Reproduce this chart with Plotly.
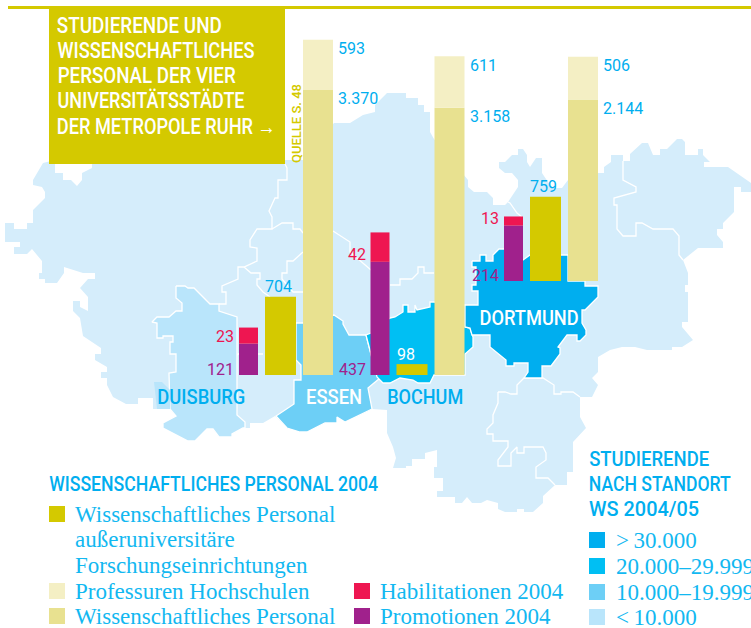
import json
import plotly.graph_objects as go

# ---------- data ----------
CITIES = ["Duisburg-Essen", "Bochum", "Dortmund"]
PROFESSUREN = [593, 611, 506]
WISS_PERSONAL = [3370, 3158, 2144]
AUSSERUNI = [704, 98, 759]
PROMOTIONEN = [121, 437, 214]
HABILITATIONEN = [23, 42, 13]

GOLD, WISS_C, PROF_C, HABIL_C, PROMO_C = "#D4C900", "#E8E190", "#F4EFC4", "#EE1651", "#A0218C"
CYAN = "#00AEEF"
LEG_CYAN = "#12B8F1"
REGION_C = ["#00AEEF", "#00BFF3", "#6DCFF6", "#B9E5FB"]
PALE = "#D5EDFB"

W, H = 751, 628
BASE_PX = [375, 375, 281]
GROUP_LEFT = [239, 370.5, 504]
K_WISS, K_PROMO, K_GOLD, K_HABIL = 0.0846, 0.2590, 0.1110, 0.70

# ---------- base map outlines (image geography) ----------
OUTER = [(303,160),(285,160),(92,160),(92,168),(82,173),(82,180),(77,186),(71,180),(63,180),(63,173),(55,173),(55,160),(43,163),
(33,180),(33,185),(42,187),(45,192),(45,198),(33,210),(33,223),(27,223),(27,229),(14,229),(14,223),(5,223),(5,242),(20,242),(20,247),(14,247),(14,254),(27,254),(32,249),(42,261),(42,273),(39,273),(39,279),(45,279),(45,283),(57,283),(64,273),(64,267),(83,273),(95,273),(95,279),(88,279),(80,288),(88,297),(88,311),(80,307),(80,301),(73,301),(73,311),(80,318),(83,336),(101,348),(101,354),(95,354),(95,360),(107,367),(107,372),(101,372),(101,378),(107,378),(107,385),(113,397),(126,404),(138,404),(138,398),(153,398),(153,409),(170,409),(176,416),(163,423),(163,428),(188,441),(195,441),(207,429),(213,429),(219,437),(232,437),(232,434),(243,428),(250,428),(250,423),(263,423),(275,416),(287,428),(300,432),(307,432),(325,423),(337,423),(337,417),(345,422),(358,416),(372,409),(387,410),
(387,433),(393,447),(396,458),(393,468),(406,468),(406,466),(412,466),(412,459),(425,459),(425,453),(437,450),(437,467),(434,467),(434,478),(443,478),(443,491),(437,491),(437,497),(455,497),(455,503),(462,503),(467,497),(472,503),(481,503),(487,500),(498,503),(498,509),(505,512),(517,512),(517,509),(524,509),(524,512),(533,512),(543,503),(543,496),(555,485),(567,485),(567,472),(573,472),(573,442),(586,428),(580,417),(580,397),(586,397),(592,397),(598,385),(592,378),(598,372),(598,357),(610,350),(622,347),(635,347),(647,350),(672,350),(672,347),(682,347),(693,340),(682,327),(682,322),(688,322),(688,292),(685,292),(685,285),(688,285),(688,273),(683,260),(698,248),(723,248),(723,242),(717,235),(717,229),(723,229),(723,223),(734,212),(734,187),(741,187),(741,192),(751,192),(751,183),(728,167),(704,167),(704,162),(710,162),(703,155),(703,149),(698,149),(698,155),(685,155),(685,142),(682,139),(677,139),(667,149),(660,149),(660,155),(653,155),(648,143),(642,143),(630,154),(630,161),(623,161),(623,155),(611,155),(611,162),(604,167),(604,173),(598,173),(568,180),(562,188),(552,188),(542,173),(542,158),(536,158),(530,167),(527,162),(527,155),(523,149),(518,149),(518,155),(512,155),(505,162),(499,162),(499,168),(505,173),(512,173),(518,180),(518,187),(508,202),(505,205),(493,205),(493,198),(487,192),(474,192),(468,187),(468,180),(434,139),(430,132),(430,112),(424,112),(424,105),(418,105),(418,98),(406,98),(406,93),(387,93),(375,105),(375,112),(363,115),(350,123),(334,123)]
DUISBURG = [(176,286),(185,286),(188,288),(194,288),(210,304),(219,304),(219,311),(237,317),(237,415),(245,422),(245,428),(243,428),(232,434),(232,437),(219,437),(213,429),(207,429),(195,441),(188,441),(163,428),(163,423),(176,416),(170,409),(169,373),(176,372),(176,354),(170,354),(170,342),(173,342),(173,336),(163,336),(163,338),(157,338),(157,323),(152,322),(157,317),(169,317),(176,311),(182,311),(182,303),(176,298)]
DUISBURG_LOBE = [(154,382),(162,382),(170,390),(170,409),(157,409)]
ESSEN = [(296,323),(303,323),(334,315),(343,321),(343,324),(349,335),(366,335),(370,352),(375,370),(380,378),(368,388),(372,409),(358,416),(345,422),(337,417),(337,423),(325,423),(307,432),(300,432),(287,428),(276,416),(294,404),(294,380),(301,380),(301,365),(296,360)]
BOCHUM = [(390,318),(395,317),(403,312),(403,305),(408,305),(408,312),(415,312),(415,305),(417,310),(430,307),(430,302),(434,302),(465,305),(465,327),(470,328),(473,337),(473,347),(465,354),(465,375),(434,375),(430,383),(418,383),(413,380),(400,378),(390,383),(383,383),(377,377),(370,352),(366,335),(371,333)]
DORTMUND = [(472,261),(480,261),(480,255),(486,255),(486,261),(493,261),(493,255),(499,249),(504,249),(523,260),(530,255),(568,255),(568,281),(585,281),(585,286),(598,286),(598,297),(585,310),(582,310),(582,323),(586,330),(586,335),(580,341),(577,341),(577,335),(567,335),(558,347),(560,348),(560,354),(551,366),(542,366),(542,378),(524,378),(528,372),(528,363),(514,363),(514,366),(506,366),(506,360),(490,347),(490,335),(472,335),(470,328),(465,327),(465,305),(478,305),(478,291),(472,291),(472,285),(476,285),(476,267),(472,267)]
BORDERS = [
 [(285,164),(287,168),(287,180),(278,180),(278,198),(275,198),(269,211),(272,217),(272,229),(257,229),(250,240),(250,247),(257,248),(257,261),(244,267),(238,267),(238,279),(222,286),(222,292),(226,292),(226,304),(219,304)],
 [(272,229),(282,223),(293,223),(293,229),(300,229),(303,233)],
 [(244,267),(251,273),(260,273),(260,279),(257,279),(257,285),(263,292),(270,297)],
 [(303,252),(293,261),(287,261),(287,273),(282,273),(282,279),(293,292),(303,292)],
 [(333,231),(350,242),(350,252),(371,270)],
 [(390,285),(400,285),(400,279),(412,279),(418,273),(418,267),(424,267),(424,273),(434,273)],
 [(508,202),(510,203),(517,213),(522,217)],
 [(623,161),(623,180),(636,187),(636,192),(614,198),(614,205),(617,205),(617,229),(623,236),(636,236),(636,223),(642,223),(653,229),(673,229),(679,236),(679,255),(683,260)],
 [(498,392),(505,392),(511,394),(517,394),(517,385),(524,378),(543,378),(554,385),(554,394),(561,394),(561,392),(573,392),(580,397)],
 [(498,392),(498,403),(493,415),(493,423),(487,429),(487,434),(493,434),(493,441),(508,441),(508,447),(498,460),(498,466),(511,466),(511,453),(517,447),(517,453),(524,453),(524,447),(543,447),(546,453),(546,460),(536,467),(536,478),(548,478),(555,485)],
 [(232,360),(238,354),(263,354)],
]

# text, left edge, vertical centre, target width, size, colour
HEADINGS = [
 ("STUDIERENDE UND", 57, 25, 165, 22, "white"),
 ("WISSENSCHAFTLICHES", 57, 50, 197, 22, "white"),
 ("PERSONAL DER VIER", 57, 75, 178, 22, "white"),
 ("UNIVERSITÄTSSTÄDTE", 57, 100, 187, 22, "white"),
 ("DER METROPOLE RUHR →", 57, 126, 219, 22, "white"),
 ("DUISBURG", 157, 397, 88, 21, CYAN),
 ("ESSEN", 306, 397, 56, 21, "white"),
 ("BOCHUM", 387, 397, 76, 21, CYAN),
 ("DORTMUND", 479, 318, 99, 21, "white"),
 ("WISSENSCHAFTLICHES PERSONAL 2004", 49, 484, 329, 21, CYAN),
 ("STUDIERENDE", 589, 459, 120, 21, CYAN),
 ("NACH STANDORT", 589, 484, 142, 21, CYAN),
 ("WS 2004/05", 589, 509, 110, 21, CYAN),
]
LEFT_LEGEND = [("Wissenschaftliches Personal", GOLD, 514), ("außeruniversitäre", None, 539), ("Forschungseinrichtungen", None, 565),
               ("Professuren Hochschulen", PROF_C, 591), ("Wissenschaftliches Personal", WISS_C, 616)]
MID_LEGEND = [("Habilitationen 2004", HABIL_C, 591), ("Promotionen 2004", PROMO_C, 616)]
RIGHT_LEGEND = [(">\u200930.000", REGION_C[0], 540), ("20.000–29.999", REGION_C[1], 566), ("10.000–19.999", REGION_C[2], 592), ("<\u200910.000", REGION_C[3], 617)]

HEAD = "Roboto, sans-serif"
NUM = "Roboto, sans-serif"
SERIF = "'Liberation Serif', serif"

def de(v):
    return f"{v:,}".replace(",", ".")

fig = go.Figure()

def poly(pts, color):
    fig.add_trace(go.Scatter(x=[p[0] for p in pts]+[pts[0][0]], y=[p[1] for p in pts]+[pts[0][1]], mode="lines",
                             fill="toself", fillcolor=color, line=dict(color="white", width=1.3), hoverinfo="skip", xaxis="x", yaxis="y"))

fig.add_trace(go.Scatter(x=[p[0] for p in OUTER]+[OUTER[0][0]], y=[p[1] for p in OUTER]+[OUTER[0][1]], mode="lines",
                         fill="toself", fillcolor=PALE, line=dict(color=PALE, width=0), hoverinfo="skip", xaxis="x", yaxis="y"))
for b in BORDERS:
    fig.add_trace(go.Scatter(x=[p[0] for p in b], y=[p[1] for p in b], mode="lines", line=dict(color="white", width=1.3), hoverinfo="skip", xaxis="x", yaxis="y"))
poly(DUISBURG, REGION_C[3])
fig.add_trace(go.Scatter(x=[p[0] for p in DUISBURG_LOBE]+[DUISBURG_LOBE[0][0]], y=[p[1] for p in DUISBURG_LOBE]+[DUISBURG_LOBE[0][1]], mode="lines",
                         fill="toself", fillcolor=REGION_C[3], line=dict(width=0), hoverinfo="skip", xaxis="x", yaxis="y"))
poly(ESSEN, REGION_C[2])
poly(BOCHUM, REGION_C[1])
poly(DORTMUND, REGION_C[0])

# ---------- bars: every series has its own value scale, all sharing the pixel zero of the first two groups ----------
BAR = {"promo": (0, 19), "gold": (26, 31), "wiss": (64, 30)}
def xc(i, kind):
    off, w = BAR[kind]
    return GROUP_LEFT[i] + off + w/2
def lift(i, k):  # Dortmund stands higher on the map
    return (BASE_PX[0]-BASE_PX[i]) / k
idx = range(len(CITIES))
def bars(kind, vals, bases, color, axis, name):
    fig.add_trace(go.Bar(x=[xc(i, kind) for i in idx], y=vals, base=bases, width=BAR[kind][1], marker=dict(color=color, line=dict(width=0)),
                         xaxis="x", yaxis=axis, name=name, hoverinfo="skip"))
bars("wiss", WISS_PERSONAL, [lift(i, K_WISS) for i in idx], WISS_C, "y2", "Wissenschaftliches Personal")
bars("wiss", PROFESSUREN, [lift(i, K_WISS)+WISS_PERSONAL[i] for i in idx], PROF_C, "y2", "Professuren Hochschulen")
bars("promo", PROMOTIONEN, [lift(i, K_PROMO) for i in idx], PROMO_C, "y3", "Promotionen 2004")
bars("gold", AUSSERUNI, [lift(i, K_GOLD) for i in idx], GOLD, "y4", "Außeruniversitär")
habil_base = [lift(i, K_HABIL) + PROMOTIONEN[i]*K_PROMO/K_HABIL for i in idx]
bars("promo", HABILITATIONEN, habil_base, HABIL_C, "y5", "Habilitationen 2004")

ann = []
def text(x, y, t, size, color, font, xa="left", ya="middle", weight=None):
    f = dict(size=size, color=color, family=font)
    if weight:
        f["weight"] = weight
    ann.append(dict(x=x, y=y, xref="x", yref="y", text=t, showarrow=False, xanchor=xa, yanchor=ya, font=f))
def vlabel(x, y, axis, t, color, xa="left", yshift=0):
    ann.append(dict(x=x, y=y, xref="x", yref=axis, text=t, showarrow=False, xanchor=xa, yanchor="middle", yshift=yshift,
                    font=dict(size=16, color=color, family=NUM)))

for i in idx:
    wl = GROUP_LEFT[i]+BAR["wiss"][0]+BAR["wiss"][1]+3
    wt = lift(i, K_WISS)+WISS_PERSONAL[i]
    vlabel(wl, wt, "y2", de(WISS_PERSONAL[i]), CYAN, yshift=-9)
    vlabel(wl, wt+PROFESSUREN[i], "y2", de(PROFESSUREN[i]), CYAN, yshift=-9)
    gx = GROUP_LEFT[i]+BAR["gold"][0]-2
    vlabel(gx, lift(i, K_GOLD)+AUSSERUNI[i], "y4", de(AUSSERUNI[i]), "white" if AUSSERUNI[i] < 200 else CYAN, yshift=10)
    px = GROUP_LEFT[i]-3
    vlabel(px, lift(i, K_PROMO), "y3", de(PROMOTIONEN[i]), PROMO_C, xa="right", yshift=6)
    vlabel(px, habil_base[i], "y5", de(HABILITATIONEN[i]), HABIL_C, xa="right", yshift=7)

for t, left, y, w, size, color in HEADINGS:
    text(left + w/2, y, t, size, color, HEAD, xa="center", weight=500)
ann.append(dict(x=296, y=124, xref="x", yref="y", text="QUELLE S. 48", textangle=-90, showarrow=False, xanchor="center", yanchor="middle",
                font=dict(size=13, color=GOLD, family=NUM, weight=500)))

shapes = [dict(type="rect", xref="x", yref="y", x0=8, x1=W, y0=6, y1=9, fillcolor=GOLD, line=dict(width=0), layer="above"),
          dict(type="rect", xref="x", yref="y", x0=49, x1=285, y0=6, y1=164, fillcolor=GOLD, line=dict(width=0), layer="above")]
def swatch(x, yc, c):
    shapes.append(dict(type="rect", xref="x", yref="y", x0=x, x1=x+16, y0=yc-8, y1=yc+8, fillcolor=c, line=dict(width=0), layer="above"))
for t, c, y in LEFT_LEGEND:
    if c: swatch(49, y, c)
    text(73, y, t, 23, LEG_CYAN, SERIF)
for t, c, y in MID_LEGEND:
    swatch(354, y, c)
    text(378, y, t, 23, LEG_CYAN, SERIF)
for t, c, y in RIGHT_LEGEND:
    swatch(589, y, c)
    text(614, y, t, 23, LEG_CYAN, SERIF)

def vaxis(k=None):
    base = dict(visible=False, fixedrange=True, domain=[0, 1])
    if k is None:
        base.update(range=[H, 0])
    else:
        base.update(range=[(BASE_PX[0]-H)/k, BASE_PX[0]/k], overlaying="y", anchor="x")
    return base

fig.update_layout(width=W, height=H, margin=dict(l=0, r=0, t=0, b=0), paper_bgcolor="white", plot_bgcolor="white",
    showlegend=False, barmode="overlay", autosize=False,
    xaxis=dict(range=[0, W], visible=False, fixedrange=True, domain=[0, 1]),
    yaxis=vaxis(), yaxis2=vaxis(K_WISS), yaxis3=vaxis(K_PROMO), yaxis4=vaxis(K_GOLD), yaxis5=vaxis(K_HABIL),
    annotations=ann, shapes=shapes)

widths = json.dumps({h[0]: h[3] for h in HEADINGS}, ensure_ascii=False)
post = """
document.body.style.margin='0';document.body.style.overflow='hidden';
var gd=document.getElementById('{plot_id}');
var WIDTHS=%s;
function fit(){document.querySelectorAll('.annotation-text').forEach(function(t){
  var w=WIDTHS[t.textContent]; if(w){t.setAttribute('textLength',w);t.setAttribute('lengthAdjust','spacingAndGlyphs');}
});}
fit(); gd.on('plotly_afterplot',fit); setTimeout(fit,50);
""" % widths
fig.write_html("out.html", config={"displayModeBar": False}, post_script=post)
